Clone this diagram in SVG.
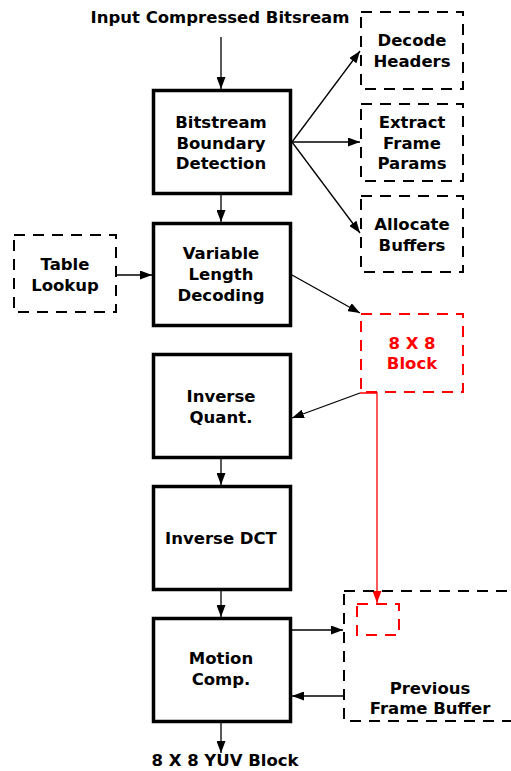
<svg xmlns="http://www.w3.org/2000/svg" width="511" height="771" viewBox="0 0 511 771">
<style>
.main{fill:#fff;stroke:#000;stroke-width:3.5}
.dash{fill:none;stroke:#000;stroke-width:2;stroke-dasharray:11 8}
.rdash{fill:none;stroke:#f00;stroke-width:2;stroke-dasharray:11 8}
text{font-family:"DejaVu Sans","Open Sans",sans-serif;font-weight:bold;font-size:16.5px;text-anchor:middle;fill:#000}
.red{fill:#f00}
.ln{stroke:#000;stroke-width:1.3;fill:none;marker-end:url(#ah)}
.rln{stroke:#f00;stroke-width:1.3;fill:none;marker-end:url(#rah)}
</style>
<defs>
<marker id="ah" markerUnits="userSpaceOnUse" markerWidth="12" markerHeight="9" refX="12" refY="4.5" orient="auto"><path d="M0,0 L12,4.5 L0,9 z" fill="#000"/></marker>
<marker id="rah" markerUnits="userSpaceOnUse" markerWidth="12" markerHeight="9" refX="12" refY="4.5" orient="auto"><path d="M0,0 L12,4.5 L0,9 z" fill="#f00"/></marker>
</defs>
<rect width="511" height="771" fill="#fff"/>
<g id="connectors">
<line class="ln" x1="221" y1="37" x2="221" y2="89"/>
<line class="ln" x1="221" y1="195" x2="221" y2="222"/>
<line class="ln" x1="292" y1="142" x2="360" y2="51"/>
<line class="ln" x1="292" y1="142" x2="360" y2="142"/>
<line class="ln" x1="292" y1="142" x2="360" y2="233"/>
<line class="ln" x1="117" y1="275" x2="152" y2="275"/>
<line class="ln" x1="292" y1="275" x2="360" y2="313"/>
<line class="ln" x1="360" y1="393" x2="292" y2="418"/>
<line class="ln" x1="221" y1="459" x2="221" y2="485"/>
<line class="ln" x1="221" y1="591" x2="221" y2="617"/>
<line class="ln" x1="221" y1="723" x2="221" y2="753"/>
<line class="ln" x1="292" y1="630" x2="343" y2="630"/>
<line class="ln" x1="343" y1="696" x2="292" y2="696"/>
<path class="rln" d="M360,393 L377,393 L377,603"/>
</g>
<g id="title"><text x="220" y="23">Input Compressed Bitsream</text></g>
<g id="bbd"><rect class="main" x="153.5" y="90.5" width="137" height="103"/><text x="221" y="128">Bitstream</text><text x="221" y="149">Boundary</text><text x="221" y="169">Detection</text></g>
<g id="decode"><rect class="dash" x="361" y="12" width="102" height="77"/><text x="412" y="46">Decode</text><text x="412" y="67">Headers</text></g>
<g id="extract"><rect class="dash" x="361" y="104" width="102" height="77"/><text x="412" y="128">Extract</text><text x="412" y="149">Frame</text><text x="412" y="169">Params</text></g>
<g id="allocate"><rect class="dash" x="361" y="196" width="102" height="76"/><text x="412" y="230">Allocate</text><text x="412" y="251">Buffers</text></g>
<g id="table"><rect class="dash" x="14" y="235" width="102" height="77"/><text x="65" y="270">Table</text><text x="65" y="291">Lookup</text></g>
<g id="vld"><rect class="main" x="153.5" y="223.5" width="137" height="102"/><text x="221" y="259">Variable</text><text x="221" y="280">Length</text><text x="221" y="301">Decoding</text></g>
<g id="block"><rect class="rdash" x="361" y="314" width="102" height="78"/><text class="red" x="412" y="349">8 X 8</text><text class="red" x="412" y="369">Block</text></g>
<g id="iq"><rect class="main" x="153.5" y="354.5" width="137" height="103"/><text x="221" y="402">Inverse</text><text x="221" y="423">Quant.</text></g>
<g id="idct"><rect class="main" x="153.5" y="486.5" width="137" height="103"/><text x="221" y="544">Inverse DCT</text></g>
<g id="mc"><rect class="main" x="153.5" y="618.5" width="137" height="103"/><text x="221" y="664">Motion</text><text x="221" y="685">Comp.</text></g>
<g id="pfb"><rect class="dash" x="344" y="591" width="200" height="130"/><rect class="rdash" x="357" y="604" width="42" height="31" stroke-dasharray="9 7"/><text x="430" y="694">Previous</text><text x="430" y="714">Frame Buffer</text></g>
<g id="output"><text x="225" y="766">8 X 8 YUV Block</text></g>
</svg>
